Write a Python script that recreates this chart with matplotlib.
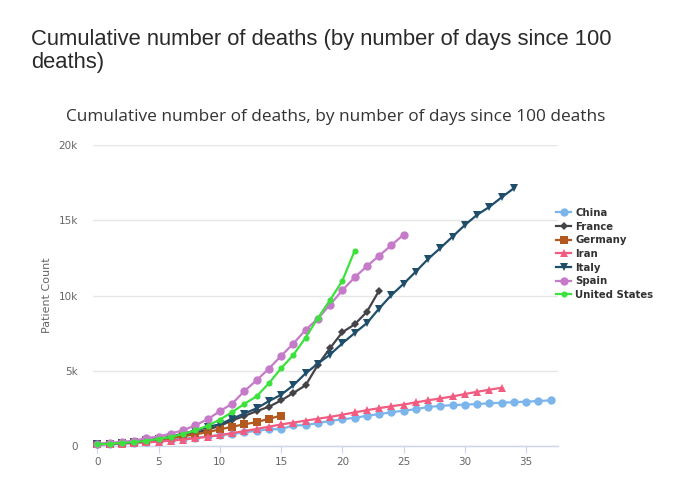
import matplotlib
matplotlib.use("Agg")
import matplotlib.pyplot as plt
from matplotlib.ticker import FixedLocator

W, H = 691, 483

countries = ["China", "France", "Germany", "Iran", "Italy", "Spain", "United States"]

china = [131, 133, 171, 213, 259, 361, 425, 490, 562, 632, 717, 804, 904, 1011,
         1111, 1120, 1370, 1381, 1524, 1666, 1772, 1870, 2006, 2121, 2239, 2348,
         2445, 2595, 2665, 2717, 2746, 2790, 2837, 2872, 2914, 2947, 2983, 3040]
france = [127, 148, 175, 264, 372, 450, 562, 674, 860, 1100, 1331, 1696, 1995,
          2314, 2606, 3024, 3523, 4032, 5387, 6507, 7560, 8078, 8911, 10328]
germany = [123, 157, 206, 267, 342, 433, 533, 645, 775, 920, 1107, 1275, 1444,
           1584, 1810, 2016]
iran = [107, 124, 145, 194, 237, 291, 354, 429, 514, 611, 724, 853, 988, 1135,
        1284, 1433, 1556, 1685, 1812, 1934, 2077, 2234, 2378, 2517, 2640, 2757,
        2898, 3036, 3160, 3294, 3452, 3603, 3739, 3872]
italy = [107, 148, 197, 233, 366, 463, 631, 827, 1016, 1266, 1441, 1809, 2158,
         2503, 2978, 3405, 4032, 4825, 5476, 6077, 6820, 7503, 8165, 9134, 10023,
         10779, 11591, 12428, 13155, 13915, 14681, 15362, 15887, 16523, 17127]
spain = [133, 195, 289, 342, 533, 623, 830, 1043, 1375, 1772, 2311, 2808, 3647,
         4365, 5138, 5982, 6803, 7716, 8464, 9387, 10348, 11198, 11947, 12641,
         13341, 14045]
united_states = [110, 150, 205, 260, 340, 470, 600, 800, 1030, 1350, 1750, 2250,
                 2800, 3300, 4160, 5160, 6050, 7200, 8500, 9700, 10980, 12960]

x_ticks = [0, 5, 10, 15, 20, 25, 30, 35]
y_ticks = [0, 5000, 10000, 15000, 20000]
y_tick_labels = ["0", "5k", "10k", "15k", "20k"]

series = [china, france, germany, iran, italy, spain, united_states]
colors = ["#7cb5ec", "#434348", "#b3591f", "#f15c80", "#1f4e6b", "#c67bc9", "#3de13d"]
markers = ["o", "D", "s", "^", "v", "o", "o"]
msizes = [6.0, 3.6, 5.2, 5.4, 6.0, 6.0, 4.4]

fig = plt.figure(figsize=(W / 100, H / 100), dpi=100)

def fx(px):
    return px / W

def fy(py):
    return 1 - py / H

left, right, top, bottom = 93, 558, 145, 446
ax = fig.add_axes([fx(left), fy(bottom), fx(right - left), (bottom - top) / H])

for name, data, c, m, ms in zip(countries, series, colors, markers, msizes):
    days = list(range(len(data)))
    ax.plot(days, data, color=c, marker=m, markersize=ms, linewidth=1.6,
            markeredgewidth=0, label=name, clip_on=False, zorder=3)

ax.set_xlim(-0.35, 37.6)
ax.set_ylim(0, 20000)
ax.yaxis.set_major_locator(FixedLocator(y_ticks))
ax.set_yticklabels(y_tick_labels)
ax.xaxis.set_major_locator(FixedLocator(x_ticks))

for s in ["top", "right", "left"]:
    ax.spines[s].set_visible(False)
ax.spines["bottom"].set_color("#ccd6eb")
ax.spines["bottom"].set_linewidth(1.0)
ax.grid(axis="y", color="#e6e6e6", linewidth=1.0)
ax.set_axisbelow(True)

ax.tick_params(axis="y", length=0, pad=11, labelsize=7.5, labelcolor="#666666")
ax.tick_params(axis="x", length=5, width=0.8, color="#ccd6eb", pad=3,
               labelsize=7.5, labelcolor="#666666")
for lab in ax.get_xticklabels() + ax.get_yticklabels():
    lab.set_family("DejaVu Sans")

fig.text(fx(47), fy(295), "Patient Count", rotation=90, ha="center", va="center",
         fontsize=8, color="#666666", family="DejaVu Sans")

fig.text(fx(31), fy(29), "Cumulative number of deaths (by number of days since 100\ndeaths)",
         ha="left", va="top", fontsize=15.8, color="#2a2a2a", family="Liberation Sans",
         linespacing=1.15)

fig.text(fx(335.5), fy(117), "Cumulative number of deaths, by number of days since 100 deaths",
         ha="center", va="center", fontsize=12.45, color="#333333", family="Open Sans")

leg = fig.legend(loc="upper left", bbox_to_anchor=(fx(556), fy(208)), frameon=False,
                 prop=dict(family="DejaVu Sans", weight="bold", size=7.3),
                 handlelength=1.5, handletextpad=0.4, labelspacing=0.36,
                 borderaxespad=0, borderpad=0)
for t in leg.get_texts():
    t.set_color("#333333")

fig.savefig("out.png", dpi=100)
